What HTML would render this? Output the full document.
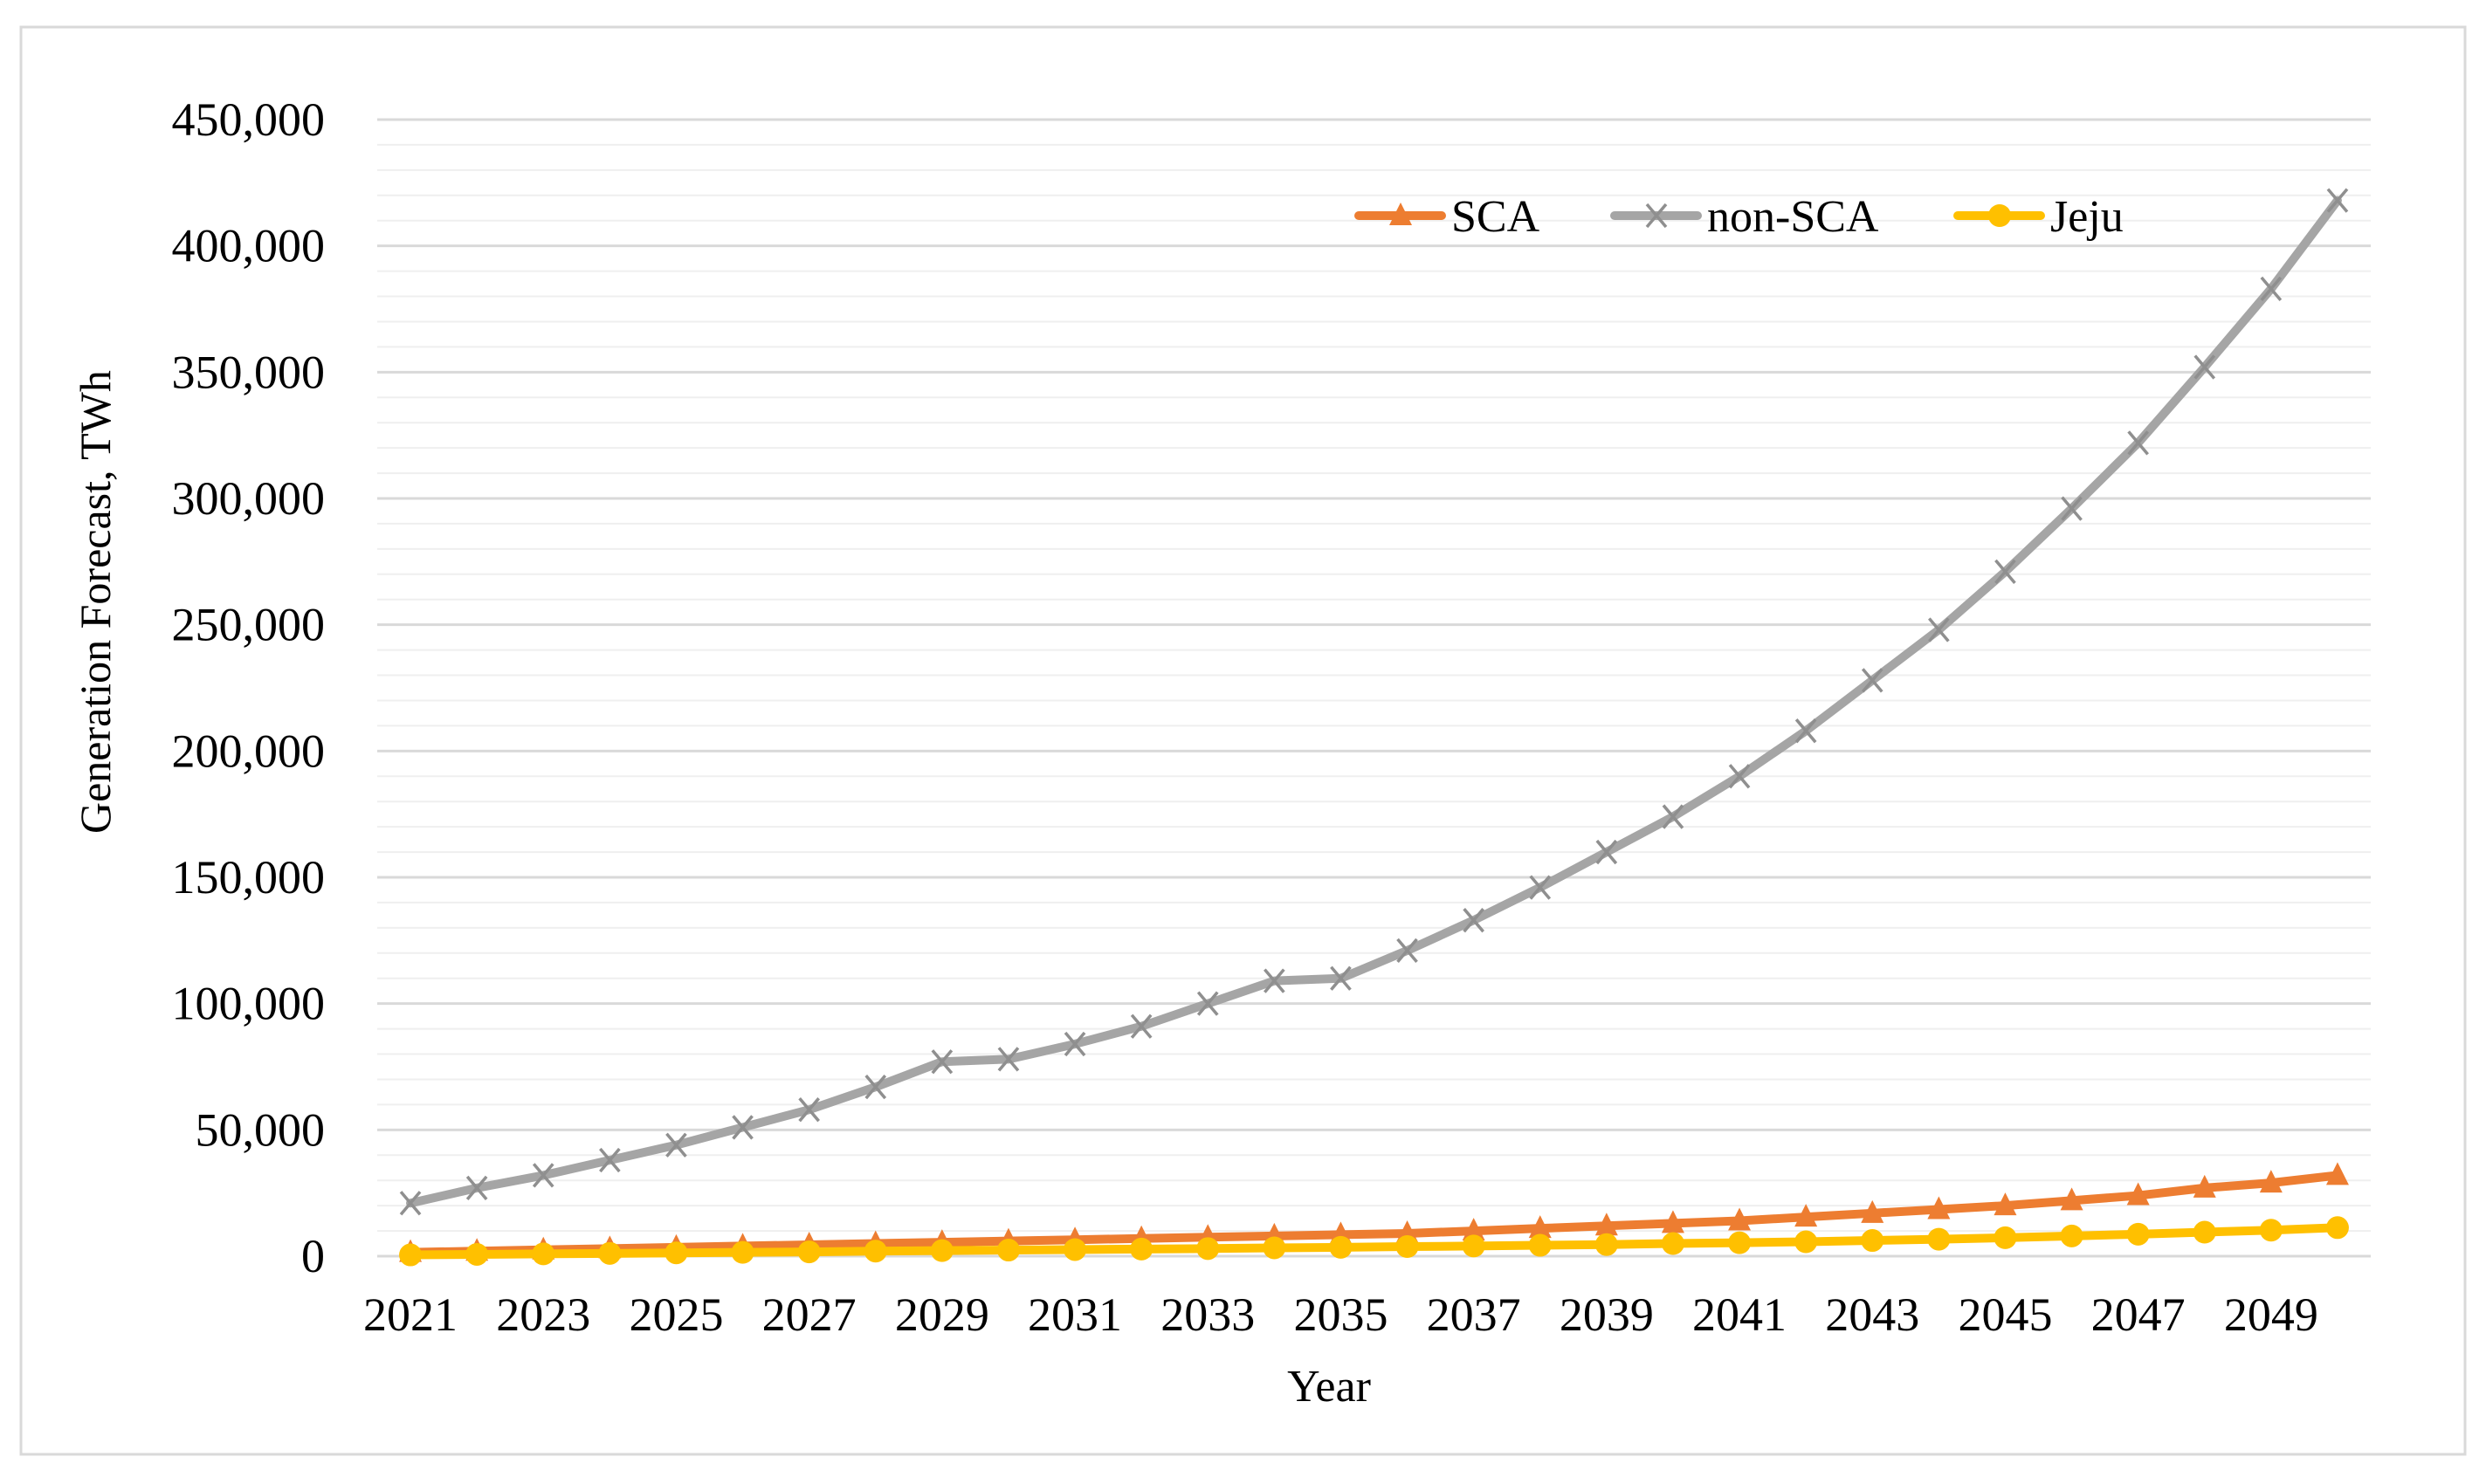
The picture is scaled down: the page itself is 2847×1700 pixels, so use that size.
<!DOCTYPE html>
<html><head><meta charset="utf-8"><style>
html,body{margin:0;padding:0;background:#fff;}
svg{display:block;font-family:"Liberation Serif",serif;}
</style></head><body>
<svg id="chart" width="2847" height="1700" viewBox="0 0 2847 1700">
<rect x="24" y="31" width="2799" height="1635" fill="#fff" stroke="#d9d9d9" stroke-width="3"/>
<g id="grid"></g>
<g id="yticks"></g>
<g id="xticks"></g>
<g id="series"></g>
<text x="0" y="0" font-size="50" text-anchor="start" transform="translate(126 955) rotate(-90)">Generation Forecast, TWh</text>
<text x="1522" y="1605" font-size="52" text-anchor="middle">Year</text>
<g id="legend"></g>
</svg>
<script>
const years = [2021,2022,2023,2024,2025,2026,2027,2028,2029,2030,2031,2032,2033,2034,2035,2036,2037,2038,2039,2040,2041,2042,2043,2044,2045,2046,2047,2048,2049,2050];
const sca = [1500,2000,2500,3000,3500,4000,4500,5000,5500,6000,6500,7000,7500,8000,8500,9000,10000,11000,12000,13000,14000,15500,17000,18500,20000,22000,24000,27000,29000,32000];
const nonSca = [21000,27000,32000,38000,44000,51000,58000,67000,77000,78000,84000,91000,100000,109000,110000,121000,133000,146000,160000,174000,190000,208000,228000,248000,271000,296000,322000,352000,383000,418000];
const jeju = [500,700,900,1100,1300,1500,1700,2000,2200,2400,2600,2800,3000,3300,3500,3800,4000,4300,4600,5000,5300,5700,6200,6700,7300,8000,8700,9500,10300,11300];
const yTicks = [0,50000,100000,150000,200000,250000,300000,350000,400000,450000];
const xLabels = [2021,2023,2025,2027,2029,2031,2033,2035,2037,2039,2041,2043,2045,2047,2049];

const NS='http://www.w3.org/2000/svg';
const PL=432, PR=2715, PT=137, PB=1439, YMAX=450000;
const step=(PR-PL)/years.length;
function xs(i){return PL+step*(i+0.5);}
function ys(v){return PB-(v/YMAX)*(PB-PT);}
function mk(tag,attrs,parent){const e=document.createElementNS(NS,tag);for(const k in attrs)e.setAttribute(k,attrs[k]);parent.appendChild(e);return e;}

const grid=document.getElementById('grid');
for(let v=0;v<=YMAX;v+=10000){
  const major=v%50000===0;
  const l=mk('line',{x1:PL,x2:PR,y1:ys(v),y2:ys(v),stroke:major?'#d9d9d9':'#efefef','stroke-width':major?3:2},grid);
  
  
}
const yt=document.getElementById('yticks');
yTicks.forEach(v=>{
  const t=mk('text',{x:372,y:ys(v)+18,'font-size':54,'text-anchor':'end'},yt);
  t.textContent=v.toLocaleString('en-US');
  
  
});
const xt=document.getElementById('xticks');
xLabels.forEach(y=>{
  const i=years.indexOf(y);
  const t=mk('text',{x:xs(i),y:1524,'font-size':54,'text-anchor':'middle'},xt);
  t.textContent=y;
  
  
});

function marker(kind,x,y,color,g){
  let e;
  if(kind==='tri'){e=mk('polygon',{points:`${x},${y-15} ${x-13},${y+11} ${x+13},${y+11}`,fill:color},g);}
  else if(kind==='circ'){e=mk('circle',{cx:x,cy:y,r:13,fill:color},g);}
  else {e=mk('path',{d:`M${x-11},${y-13}L${x+11},${y+13}M${x+11},${y-13}L${x-11},${y+13}`,stroke:color,'stroke-width':3.5,fill:'none'},g);}
  return e;
}
const ser=document.getElementById('series');
const defs=[['non-sca',nonSca,'#a5a5a5','x'],['sca',sca,'#ed7d31','tri'],['jeju',jeju,'#ffc000','circ']];
defs.forEach(([name,vals,color,kind])=>{
  const g=mk('g',{},ser);
  
  
  const p=mk('polyline',{points:vals.map((v,i)=>xs(i)+','+ys(v)).join(' '),fill:'none',stroke:color,'stroke-width':10,'stroke-linejoin':'round','stroke-linecap':'round'},g);
  
  
  vals.forEach((v,i)=>{
    const m=marker(kind,xs(i),ys(v),kind==='x'?'#8f8f8f':color,g);
    
    
  });
});

const lg=document.getElementById('legend');
const leg=[['SCA','#ed7d31','tri',1552],['non-SCA','#a5a5a5','x',1845],['Jeju','#ffc000','circ',2238]];
leg.forEach(([label,color,kind,x0])=>{
  const g=mk('g',{},lg);
  
  
  mk('line',{x1:x0+4,x2:x0+99,y1:247,y2:247,stroke:color,'stroke-width':10,'stroke-linecap':'round'},g);
  marker(kind,x0+52,247,kind==='x'?'#8f8f8f':color,g);
  const t=mk('text',{x:x0+110,y:265,'font-size':52},g);
  t.textContent=label;
  
  
});
</script>
</body></html>
